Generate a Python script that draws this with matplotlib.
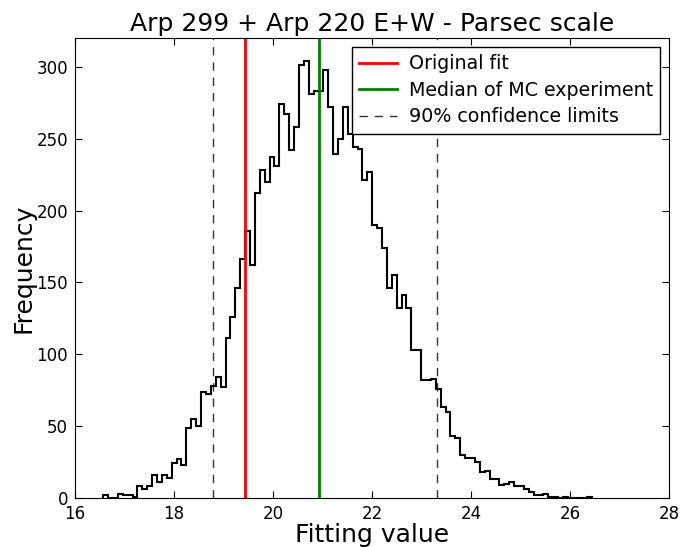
import numpy as np
import matplotlib
matplotlib.use("Agg")
import matplotlib.pyplot as plt

# Histogram bin range and counts (100 bins)
hist_min = 16.57
hist_max = 26.45
counts = [2, 0, 0, 3, 2, 2, 1, 8, 6, 8,
          16, 11, 16, 14, 24, 27, 23, 49, 55, 50,
          74, 72, 78, 84, 77, 111, 126, 146, 166, 186,
          162, 212, 228, 220, 237, 231, 274, 267, 242, 258,
          301, 304, 281, 283, 283, 298, 272, 239, 250, 272,
          253, 244, 243, 221, 227, 190, 188, 174, 146, 155,
          132, 141, 132, 103, 103, 82, 82, 83, 76, 63,
          60, 43, 42, 30, 28, 28, 25, 18, 19, 13,
          13, 9, 10, 11, 8, 8, 6, 4, 2, 2,
          3, 1, 1, 0, 1, 0, 0, 0, 0, 1]

original_fit = 19.43
mc_median = 20.93
conf_limits = [18.78, 23.31]

title = "Arp 299 + Arp 220 E+W - Parsec scale"
xlabel = "Fitting value"
ylabel = "Frequency"
xticks = [16, 18, 20, 22, 24, 26, 28]
yticks = [0, 50, 100, 150, 200, 250, 300]

plt.rcParams['font.family'] = ['DejaVu Sans']
fig = plt.figure(figsize=(6.82, 5.47), dpi=100)
ax = fig.add_axes([0.110, 0.0896, 0.871, 0.8409])

edges = np.linspace(hist_min, hist_max, len(counts) + 1)
ax.stairs(counts, edges, baseline=0, color='black', linewidth=1.5)

ax.axvline(original_fit, color='red', linewidth=2, label='Original fit')
ax.axvline(mc_median, color='green', linewidth=2, label='Median of MC experiment')
ax.axvline(conf_limits[0], color='black', linewidth=1, linestyle=(0, (6, 5)),
           label='90% confidence limits', alpha=0.8)
ax.axvline(conf_limits[1], color='black', linewidth=1, linestyle=(0, (6, 5)), alpha=0.8)

ax.set_xlim(16, 28)
ax.set_ylim(0, 320)
ax.set_xticks(xticks)
ax.set_yticks(yticks)
ax.tick_params(direction='in', top=True, right=True, length=5, labelsize=12)
ax.tick_params(axis='y', pad=5)
ax.tick_params(axis='x', pad=5)
ax.set_title(title, fontsize=18, pad=5)
ax.set_xlabel(xlabel, fontsize=18, labelpad=0)
ax.set_ylabel(ylabel, fontsize=18, labelpad=1)

leg = ax.legend(loc='upper right', fontsize=13.7, fancybox=False, framealpha=1,
                edgecolor='black', borderaxespad=0.45, handlelength=2.0,
                handletextpad=0.6, borderpad=0.4, labelspacing=0.4)
leg.get_frame().set_linewidth(1)

fig.savefig('out.png', dpi=100)
